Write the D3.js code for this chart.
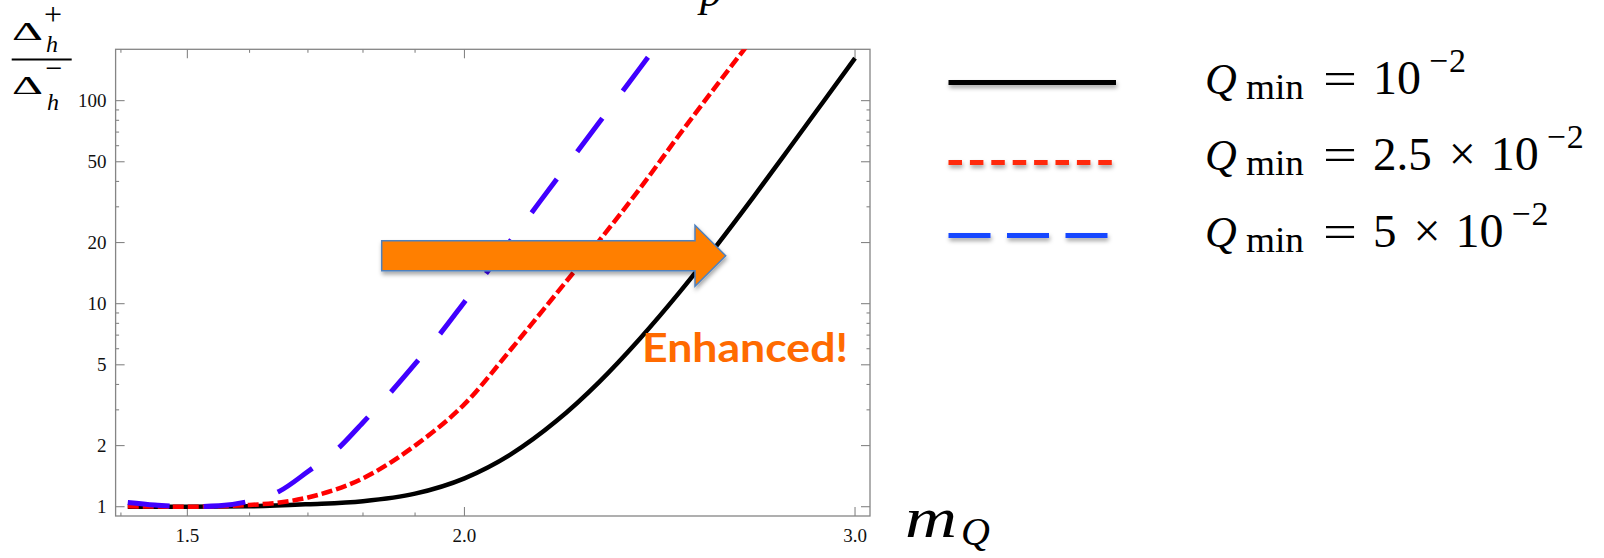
<!DOCTYPE html>
<html><head><meta charset="utf-8">
<script src="https://cdn.jsdelivr.net/npm/d3@7"></script>
<style>body{margin:0;background:#fff;} svg{display:block;}</style>
</head><body>
<svg id="chart" width="1604" height="558"></svg>
<script>
// ---- data ----
const mQBlack    = [1.41, 1.5, 1.6, 1.7, 1.8, 1.9, 2.0, 2.1, 2.2, 2.3, 2.4, 2.5, 2.6, 2.7, 2.8, 2.9, 3.0];
const ratioBlack = [1.0, 1.0, 1.005, 1.029, 1.065, 1.16, 1.38, 1.82, 2.64, 4.11, 6.74, 11.36, 19.5, 33.6, 57.6, 97.4, 162];
const mQRed      = [1.41, 1.5, 1.6, 1.7, 1.8, 1.9, 2.0, 2.1, 2.2, 2.3, 2.4, 2.5, 2.6, 2.7];
const ratioRed   = [1.005, 1.0, 1.02, 1.11, 1.38, 2.0, 3.2, 6.0, 11.2, 20.4, 37, 68, 120, 205];
const mQBlue     = [1.41, 1.45, 1.5, 1.55, 1.6, 1.65, 1.7, 1.75, 1.8, 1.85, 1.9, 1.95, 2.0, 2.1, 2.2, 2.3, 2.4, 2.5];
const ratioBlue  = [1.05, 1.02, 1.0, 1.01, 1.065, 1.19, 1.49, 1.89, 2.6, 3.6, 5.05, 7.1, 10.2, 20.7, 40.8, 78, 145, 263];

const xTickMajor  = [1.5, 2.0, 3.0];
const xTickLabels = ["1.5", "2.0", "3.0"];
const xTickMinor  = [1.4, 1.6, 1.7, 1.8, 1.9];
const yTickMajor  = [1, 2, 5, 10, 20, 50, 100];
const yTickLabels = ["1", "2", "5", "10", "20", "50", "100"];
const yTickMinor  = [3, 4, 6, 7, 8, 9, 30, 40, 60, 70, 80, 90];

const legendMantissa = ["", "2.5", "5"];
const legendExponent = "2";
const annotation = "Enhanced!";

// ---- layout ----
const svg = d3.select("#chart");
const W = 1604, H = 558;
const L = 115.6, R = 870, T = 49.3, B = 516;
const x = d3.scaleLog().domain([1.3923, 3.047]).range([L, R]);
const y = d3.scaleLog().domain([0.9, 179]).range([B, T]);

const defs = svg.append("defs");
defs.append("clipPath").attr("id", "plotclip")
  .append("rect").attr("x", L).attr("y", T).attr("width", R - L).attr("height", B - T);
const sh = defs.append("filter").attr("id", "shadow").attr("filterUnits", "userSpaceOnUse")
  .attr("x", 0).attr("y", 0).attr("width", W).attr("height", H);
sh.append("feDropShadow").attr("dx", 1).attr("dy", 3).attr("stdDeviation", 2)
  .attr("flood-color", "#000").attr("flood-opacity", 0.35);

// frame
const tickCol = "#858585";
svg.append("rect").attr("x", L).attr("y", T).attr("width", R - L).attr("height", B - T)
  .attr("fill", "none").attr("stroke", tickCol).attr("stroke-width", 1.3);

// ticks (inward, all four sides)
const tg = svg.append("g").attr("stroke", tickCol).attr("stroke-width", 1.1);
function xTicks(vals, len) {
  tg.selectAll(null).data(vals).join("line")
    .attr("x1", d => x(d)).attr("x2", d => x(d)).attr("y1", B).attr("y2", B - len);
  tg.selectAll(null).data(vals).join("line")
    .attr("x1", d => x(d)).attr("x2", d => x(d)).attr("y1", T).attr("y2", T + len);
}
function yTicks(vals, len) {
  tg.selectAll(null).data(vals).join("line")
    .attr("y1", d => y(d)).attr("y2", d => y(d)).attr("x1", L).attr("x2", L + len);
  tg.selectAll(null).data(vals).join("line")
    .attr("y1", d => y(d)).attr("y2", d => y(d)).attr("x1", R).attr("x2", R - len);
}
xTicks(xTickMajor, 9); xTicks(xTickMinor, 3.5);
yTicks(yTickMajor, 9); yTicks(yTickMinor, 3.5);

// tick labels
const serif = "'Liberation Serif','Times New Roman','DejaVu Serif',serif";
svg.append("g").selectAll("text").data(xTickMajor).join("text")
  .attr("x", d => x(d)).attr("y", B + 26).attr("text-anchor", "middle")
  .attr("font-family", serif).attr("font-size", 19).attr("fill", "#111")
  .text((d, i) => xTickLabels[i]);
svg.append("g").selectAll("text").data(yTickMajor).join("text")
  .attr("x", L - 9).attr("y", d => y(d) + 6.5).attr("text-anchor", "end")
  .attr("font-family", serif).attr("font-size", 19).attr("fill", "#111")
  .text((d, i) => yTickLabels[i]);

// curves
const line = d3.line().x(d => x(d[0])).y(d => y(d[1])).curve(d3.curveMonotoneX);
const plot = svg.append("g").attr("clip-path", "url(#plotclip)");
plot.append("path").datum(d3.zip(mQBlack, ratioBlack)).attr("d", line)
  .attr("fill", "none").attr("stroke", "#000").attr("stroke-width", 4.5);
plot.append("path").datum(d3.zip(mQRed, ratioRed)).attr("d", line)
  .attr("fill", "none").attr("stroke", "#ff0000").attr("stroke-width", 4.5)
  .attr("stroke-dasharray", "11,4");
plot.append("path").datum(d3.zip(mQBlue, ratioBlue)).attr("d", line)
  .attr("fill", "none").attr("stroke", "#4000ff").attr("stroke-width", 5)
  .attr("stroke-dasharray", "42,34");

// y-axis label: fraction
const txt = (g, props, s) => {
  const t = g.append("text").attr("font-family", serif).attr("fill", "#000");
  Object.entries(props).forEach(([k, v]) => t.attr(k, v));
  return t.text(s);
};
const ylab = svg.append("g");
txt(ylab, {x: 12, y: 39.5, "font-size": 26, textLength: 31, lengthAdjust: "spacingAndGlyphs"}, "\u0394");
txt(ylab, {x: 44, y: 25, "font-size": 32}, "+");
txt(ylab, {x: 46, y: 52, "font-size": 24, "font-style": "italic"}, "h");
ylab.append("line").attr("x1", 11.7).attr("x2", 71.7).attr("y1", 59.5).attr("y2", 59.5)
  .attr("stroke", "#000").attr("stroke-width", 2);
txt(ylab, {x: 12, y: 93.5, "font-size": 26, textLength: 31, lengthAdjust: "spacingAndGlyphs"}, "\u0394");
txt(ylab, {x: 45, y: 79, "font-size": 32, textLength: 17, lengthAdjust: "spacingAndGlyphs"}, "\u2212");
txt(ylab, {x: 47, y: 110, "font-size": 24, "font-style": "italic"}, "h");

// x-axis label
txt(svg, {x: 905, y: 537, "font-size": 56, "font-style": "italic",
  textLength: 52, lengthAdjust: "spacingAndGlyphs"}, "m");
txt(svg, {x: 961, y: 545, "font-size": 40, "font-style": "italic"}, "Q");

// fragment of text cut off at the top
txt(svg, {x: 700, y: 6, "font-size": 44, "font-style": "italic"}, "p");

// arrow annotation
const ay = 255.7, bodyH = 30, headH = 61, ax0 = 381.7, ax1 = 695, atip = 725.7;
const arrowPts = [[ax0, ay - bodyH/2], [ax1, ay - bodyH/2], [ax1, ay - headH/2], [atip, ay],
  [ax1, ay + headH/2], [ax1, ay + bodyH/2], [ax0, ay + bodyH/2]];
svg.append("path").attr("d", d3.line()(arrowPts) + "Z")
  .attr("fill", "#ff7f00").attr("stroke", "#4f81bd").attr("stroke-width", 1.5)
  .attr("stroke-linejoin", "miter").attr("filter", "url(#shadow)");

svg.append("text").attr("x", 642).attr("y", 362)
  .attr("font-family", "Lato, 'Open Sans', sans-serif").attr("font-weight", 700)
  .attr("font-size", 41).attr("fill", "#ff6a00")
  .attr("textLength", 206).attr("lengthAdjust", "spacingAndGlyphs").text(annotation);

// legend
const legY = [82.5, 162.5, 235.5];
const legColors = ["#000000", "#ff2a0a", "#1446ff"];
const legDash = [null, "13.5,7.9", "42,16.5"];
const legEnd = [1116, 1112, 1108];
const lg = svg.append("g").attr("filter", "url(#shadow)");
lg.selectAll("line").data(legY).join("line")
  .attr("x1", 948.5).attr("x2", (d, i) => legEnd[i]).attr("y1", d => d).attr("y2", d => d)
  .attr("stroke", (d, i) => legColors[i]).attr("stroke-width", 5)
  .attr("stroke-dasharray", (d, i) => legDash[i]);

const baseY = [93.5, 170, 246.5];
baseY.forEach((by, i) => {
  const g = svg.append("g");
  txt(g, {x: 1205, y: by, "font-size": 44, "font-style": "italic"}, "Q");
  txt(g, {x: 1246, y: by + 5, "font-size": 35, textLength: 58, lengthAdjust: "spacingAndGlyphs"}, "min");
  txt(g, {x: 1323, y: by, "font-size": 46, textLength: 34, lengthAdjust: "spacingAndGlyphs"}, "=");
  let cx = 1373;
  if (legendMantissa[i]) {
    const m = txt(g, {x: cx, y: by, "font-size": 47}, legendMantissa[i]);
    cx += m.node().getComputedTextLength() + 17;
    const t = txt(g, {x: cx, y: by, "font-size": 48}, "\u00d7");
    cx += t.node().getComputedTextLength() + 15;
  }
  const ten = txt(g, {x: cx, y: by, "font-size": 48}, "10");
  cx += ten.node().getComputedTextLength() + 8;
  txt(g, {x: cx, y: by - 22, "font-size": 34, textLength: 19, lengthAdjust: "spacingAndGlyphs"}, "\u2212");
  txt(g, {x: cx + 20, y: by - 22, "font-size": 34}, legendExponent);
});
</script>
</body></html>
